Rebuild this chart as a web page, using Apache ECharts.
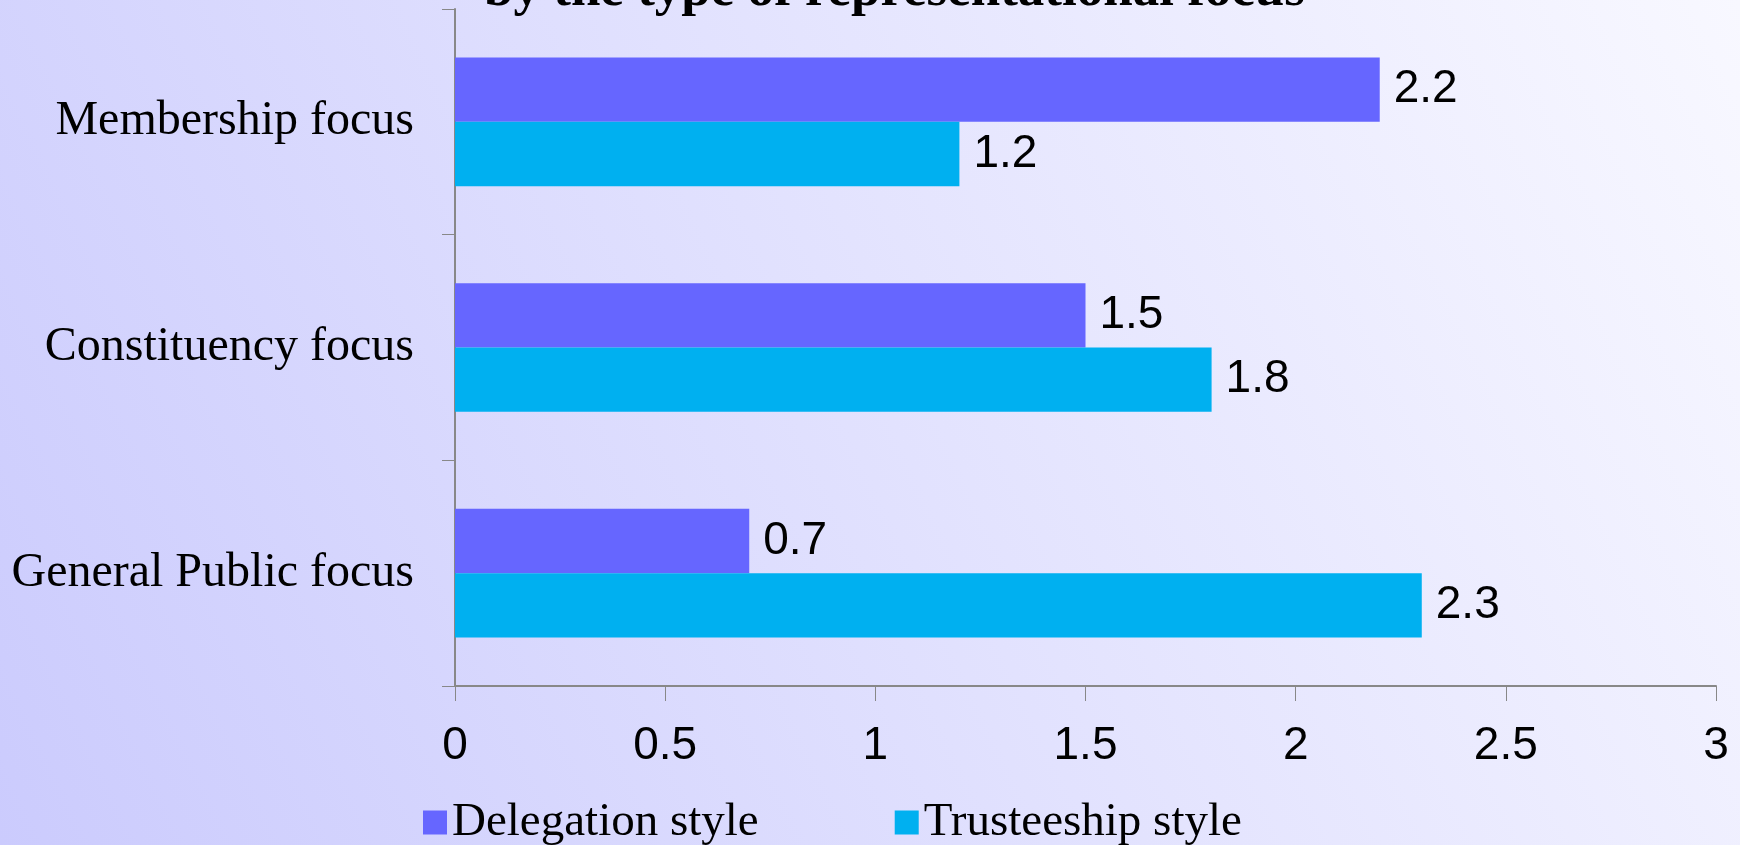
<!DOCTYPE html>
<html>
<head>
<meta charset="utf-8">
<title>Delegation vs trusteeship style</title>
<script src="https://cdn.jsdelivr.net/npm/echarts@6/dist/echarts.min.js"></script>
<style>
html,body{margin:0;padding:0;}
#chart{width:1740px;height:845px;}
</style>
</head>
<body>
<div id="chart"></div>
<script>
// categories from bottom to top
var categories = ['General Public focus', 'Constituency focus', 'Membership focus'];
var delegation = [0.7, 1.5, 2.2];
var trusteeship = [2.3, 1.8, 1.2];
var tickLabels = ['0', '0.5', '1', '1.5', '2', '2.5', '3'];

var serif = '"Liberation Serif", "Times New Roman", serif';
var sans = '"Liberation Sans", Arial, sans-serif';

var chart = echarts.init(document.getElementById('chart'));
var option = {
	animation: false,
	backgroundColor: {
		type: 'linear', x: 0, y: 1, x2: 1, y2: 0,
		colorStops: [
			{offset: 0, color: '#cbcbfd'},
			{offset: 1, color: '#f8f8ff'}
		]
	},
	title: {
		text: 'by the type of representational focus',
		left: 479,
		top: -40,
		textStyle: {fontFamily: serif, fontWeight: 'bold', fontSize: 53, color: '#000'}
	},
	legend: {
		data: ['Delegation style', 'Trusteeship style'],
		left: 418,
		top: 794,
		itemWidth: 24,
		itemHeight: 24,
		itemGap: 136,
		icon: 'rect',
		textStyle: {fontFamily: serif, fontSize: 47, color: '#000'}
	},
	grid: {left: 455, right: 24, top: 9, bottom: 159, containLabel: false},
	xAxis: {
		type: 'value',
		min: 0,
		max: 3,
		interval: 0.5,
		splitLine: {show: false},
		axisLine: {show: true, lineStyle: {color: '#888', width: 2}},
		axisTick: {show: true, length: 15, lineStyle: {color: '#888', width: 1}},
		axisLabel: {
			margin: 37,
			fontFamily: sans,
			fontSize: 46,
			color: '#000',
			formatter: function(v){ return tickLabels[Math.round(v * 2)]; }
		}
	},
	yAxis: {
		type: 'category',
		data: categories,
		axisLine: {show: true, lineStyle: {color: '#888', width: 2}},
		axisTick: {show: true, length: 13, lineStyle: {color: '#888', width: 1}},
		axisLabel: {margin: 41, fontFamily: serif, fontSize: 48, color: '#000'}
	},
	series: [
		{
			name: 'Delegation style',
			type: 'bar',
			data: delegation,
			barGap: 0,
			barCategoryGap: '43%',
			itemStyle: {color: '#6666ff'},
			label: {show: true, position: 'right', distance: 14, fontFamily: sans, fontSize: 46, color: '#000'}
		},
		{
			name: 'Trusteeship style',
			type: 'bar',
			data: trusteeship,
			barGap: 0,
			barCategoryGap: '43%',
			itemStyle: {color: '#00b0f0'},
			label: {show: true, position: 'right', distance: 14, fontFamily: sans, fontSize: 46, color: '#000'}
		}
	]
};
chart.setOption(option);
</script>
</body>
</html>
